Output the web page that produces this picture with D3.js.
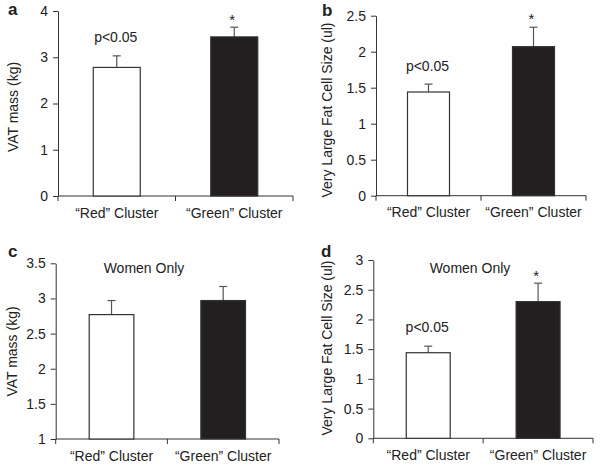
<!DOCTYPE html>
<html>
<head>
<meta charset="utf-8">
<script src="https://cdn.jsdelivr.net/npm/d3@7"></script>
<style>
  html, body { margin: 0; padding: 0; background: #fff; }
  svg text { font-family: "Liberation Sans", Arial, sans-serif; fill: #222; }
</style>
</head>
<body>
<svg id="chart" width="600" height="465"></svg>
<script>
// ---- data ----
const categories = ["\u201CRed\u201D Cluster", "\u201CGreen\u201D Cluster"];

const vatAllMeans = [2.78, 3.44];
const vatAllErrors = [0.25, 0.21];
const vatAllTicks = [0, 1, 2, 3, 4];

const cellAllMeans = [1.44, 2.07];
const cellAllErrors = [0.11, 0.27];
const cellAllTicks = [0, 0.5, 1, 1.5, 2, 2.5];

const vatWomenMeans = [2.77, 2.97];
const vatWomenErrors = [0.2, 0.2];
const vatWomenTicks = [1, 1.5, 2, 2.5, 3, 3.5];

const cellWomenMeans = [1.44, 2.30];
const cellWomenErrors = [0.11, 0.31];
const cellWomenTicks = [0, 0.5, 1, 1.5, 2, 2.5, 3];

const panelLetters = ["a", "b", "c", "d"];
const yTitles = ["VAT mass (kg)", "Very Large Fat Cell Size (ul)", "VAT mass (kg)", "Very Large Fat Cell Size (ul)"];
const subtitles = ["", "", "Women Only", "Women Only"];
const redNotes = ["p<0.05", "p<0.05", "", "p<0.05"];
const greenNotes = ["*", "*", "", "*"];

// ---- layout ----
const panels = [
  { means: vatAllMeans, errs: vatAllErrors, ticks: vatAllTicks,
    x0: 58, x1: 293, y0: 196, y1: 11, letter: [8, 15], titleX: 17.5, titleY: 107,
    noteY: 42, starY: 25, subY: 0, subX: 0 },
  { means: cellAllMeans, errs: cellAllErrors, ticks: cellAllTicks,
    x0: 376, x1: 586, y0: 195.7, y1: 15.7, letter: [322, 15.5], titleX: 331.5, titleY: 110,
    noteY: 71, starY: 23.5, subY: 0, subX: 0 },
  { means: vatWomenMeans, errs: vatWomenErrors, ticks: vatWomenTicks,
    x0: 55.7, x1: 279, y0: 439, y1: 263.3, letter: [8, 256.5], titleX: 16.7, titleY: 351.5,
    noteY: 0, starY: 0, subY: 272.7, subX: 144 },
  { means: cellWomenMeans, errs: cellWomenErrors, ticks: cellWomenTicks,
    x0: 373.3, x1: 593, y0: 438.3, y1: 260, letter: [321, 256.5], titleX: 331.5, titleY: 348,
    noteY: 331.7, starY: 280.5, subY: 272.7, subX: 470 }
];

const svg = d3.select("#chart");
const axisColor = "#333";
const barFills = ["#ffffff", "#231f20"];

panels.forEach((p, i) => {
  const g = svg.append("g");
  const x = d3.scaleBand().domain(categories).range([p.x0, p.x1])
    .paddingInner(0.6).paddingOuter(0.3);
  const y = d3.scaleLinear().domain([p.ticks[0], p.ticks[p.ticks.length - 1]]).range([p.y0, p.y1]);

  // y axis
  const yAxis = g.append("g").attr("transform", `translate(${p.x0},0)`)
    .call(d3.axisLeft(y).tickValues(p.ticks).tickSize(5).tickPadding(5).tickSizeOuter(0)
      .tickFormat(d3.format("~g")));
  yAxis.selectAll("path, line").attr("stroke", axisColor);
  yAxis.selectAll("text").style("font-size", "14px").attr("fill", "#222");

  // x axis: line plus boundary ticks
  g.append("line").attr("x1", p.x0).attr("x2", p.x1).attr("y1", p.y0).attr("y2", p.y0)
    .attr("stroke", axisColor);
  const step = x.step();
  const bounds = d3.range(categories.length + 1).map(k => p.x0 + k * step);
  g.selectAll(".xt").data(bounds).join("line")
    .attr("x1", d => d).attr("x2", d => d).attr("y1", p.y0).attr("y2", p.y0 + 5)
    .attr("stroke", axisColor);
  g.selectAll(".xl").data(categories).join("text")
    .attr("x", d => x(d) + x.bandwidth() / 2).attr("y", p.y0 + 21.5)
    .attr("text-anchor", "middle").style("font-size", "14px").text(d => d);

  // error bars
  const data = categories.map((c, k) => ({ c, v: p.means[k], e: p.errs[k], k }));
  g.selectAll(".err").data(data).join("line")
    .attr("x1", d => x(d.c) + x.bandwidth() / 2).attr("x2", d => x(d.c) + x.bandwidth() / 2)
    .attr("y1", d => y(d.v)).attr("y2", d => y(d.v + d.e))
    .attr("stroke", "#555").attr("stroke-width", 1.2);
  g.selectAll(".cap").data(data).join("line")
    .attr("x1", d => x(d.c) + x.bandwidth() / 2 - 4).attr("x2", d => x(d.c) + x.bandwidth() / 2 + 4)
    .attr("y1", d => y(d.v + d.e)).attr("y2", d => y(d.v + d.e))
    .attr("stroke", "#555").attr("stroke-width", 1.2);

  // bars
  g.selectAll(".bar").data(data).join("rect")
    .attr("x", d => x(d.c)).attr("width", x.bandwidth())
    .attr("y", d => y(d.v)).attr("height", d => p.y0 - y(d.v))
    .attr("fill", d => barFills[d.k]).attr("stroke", "#333").attr("stroke-width", 1.2);

  // panel letter
  g.append("text").attr("x", p.letter[0]).attr("y", p.letter[1])
    .style("font-size", "17px").style("font-weight", "bold").text(panelLetters[i]);

  // y title
  g.append("text").attr("transform", `translate(${p.titleX},${p.titleY}) rotate(-90)`)
    .attr("text-anchor", "middle").style("font-size", "14px").text(yTitles[i]);

  // annotations
  if (redNotes[i]) {
    g.append("text").attr("x", x(categories[0]) + x.bandwidth() / 2 - 1).attr("y", p.noteY)
      .attr("text-anchor", "middle").style("font-size", "14px").text(redNotes[i]);
  }
  if (greenNotes[i]) {
    g.append("text").attr("x", x(categories[1]) + x.bandwidth() / 2 - 2).attr("y", p.starY)
      .attr("text-anchor", "middle").style("font-size", "15px").text(greenNotes[i]);
  }
  if (subtitles[i]) {
    g.append("text").attr("x", p.subX).attr("y", p.subY)
      .attr("text-anchor", "middle").style("font-size", "14px").text(subtitles[i]);
  }
});
</script>
</body>
</html>
